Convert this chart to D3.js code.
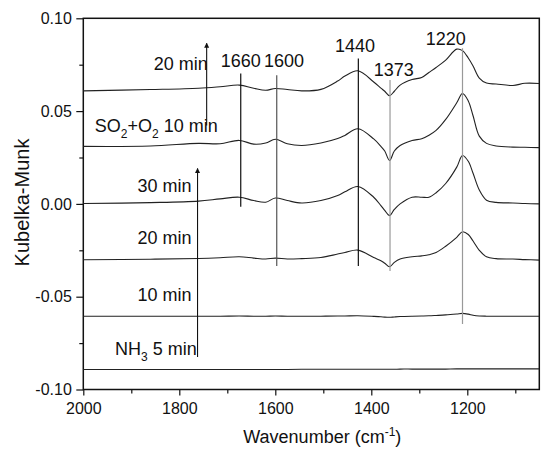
<!DOCTYPE html>
<html>
<head>
<meta charset="utf-8">
<script src="https://cdn.jsdelivr.net/npm/d3@7"></script>
<style>
body { margin: 0; background: #fff; }
text { font-family: "Liberation Sans", Arial, sans-serif; fill: #111; }
</style>
</head>
<body>
<div id="chart"></div>
<script>
var WD = 550, HT = 453
var margin = { left: 83.3, right: 10.7, top: 18.3, bottom: 63.5 }
var width = WD - margin.left - margin.right
var height = HT - margin.top - margin.bottom

// wavenumber grid (cm-1) shared by all spectra
var wavenumber = [2000, 1860, 1760, 1715, 1675, 1645, 1620, 1600, 1575, 1545, 1505, 1470, 1455, 1428,
  1395, 1380, 1372, 1362, 1352, 1340, 1315, 1295, 1280, 1265, 1245, 1222, 1210, 1198, 1188, 1175,
  1160, 1140, 1105, 1080, 1050]

// Kubelka-Munk values, one array per spectrum (bottom to top)
var nh3_5min = [-0.0892, -0.0892, -0.0892, -0.0892, -0.0892, -0.0892, -0.0892, -0.0892, -0.0892, -0.0891,
  -0.0891, -0.0891, -0.0891, -0.0891, -0.0891, -0.0891, -0.0891, -0.0891, -0.0891, -0.0890, -0.0890,
  -0.0890, -0.0890, -0.0890, -0.0890, -0.0889, -0.0889, -0.0889, -0.0889, -0.0889, -0.0889, -0.0889,
  -0.0889, -0.0889, -0.0889]
var nh3_10min = [-0.0605, -0.0605, -0.0605, -0.0605, -0.0604, -0.0605, -0.0605, -0.0604, -0.0605, -0.0605,
  -0.0605, -0.0604, -0.0604, -0.0603, -0.0606, -0.0608, -0.0610, -0.0611, -0.0609, -0.0607, -0.0605,
  -0.0604, -0.0603, -0.0601, -0.0598, -0.0593, -0.0590, -0.0594, -0.0600, -0.0604, -0.0605, -0.0605,
  -0.0605, -0.0605, -0.0605]
var nh3_20min = [-0.0301, -0.0298, -0.0294, -0.0290, -0.0285, -0.0292, -0.0297, -0.0292, -0.0297, -0.0295,
  -0.0289, -0.0270, -0.0262, -0.0249, -0.0289, -0.0306, -0.0320, -0.0339, -0.0315, -0.0297, -0.0285,
  -0.0280, -0.0274, -0.0262, -0.0228, -0.0180, -0.0150, -0.0165, -0.0200, -0.0250, -0.0285, -0.0295,
  -0.0297, -0.0300, -0.0303]
var nh3_30min = [0.0002, 0.0007, 0.0015, 0.0027, 0.0036, 0.0018, 0.0009, 0.0032, 0.0018, 0.0005,
  0.0018, 0.0045, 0.0065, 0.0094, 0.0036, -0.0009, -0.0035, -0.0063, -0.0030, 0.0000, 0.0036,
  0.0036, 0.0036, 0.0060, 0.0110, 0.0198, 0.0261, 0.0230, 0.0165, 0.0075, 0.0020, 0.0008,
  0.0005, 0.0002, 0.0000]
var so2_10min = [0.0310, 0.0312, 0.0326, 0.0324, 0.0342, 0.0322, 0.0328, 0.0348, 0.0324, 0.0315,
  0.0328, 0.0352, 0.0369, 0.0405, 0.0350, 0.0310, 0.0285, 0.0234, 0.0285, 0.0315, 0.0342,
  0.0351, 0.0370, 0.0396, 0.0455, 0.0545, 0.0595, 0.0555, 0.0475, 0.0365, 0.0326, 0.0312,
  0.0306, 0.0305, 0.0303]
var so2_20min = [0.0609, 0.0616, 0.0623, 0.0631, 0.0640, 0.0623, 0.0612, 0.0622, 0.0616, 0.0609,
  0.0617, 0.0662, 0.0689, 0.0717, 0.0657, 0.0624, 0.0607, 0.0583, 0.0607, 0.0640, 0.0670,
  0.0681, 0.0708, 0.0735, 0.0775, 0.0834, 0.0826, 0.0786, 0.0743, 0.0678, 0.0651, 0.0646,
  0.0638, 0.0650, 0.0649]
var series = [nh3_5min, nh3_10min, nh3_20min, nh3_30min, so2_10min, so2_20min]

// band markers
var bandLabel = ['1660', '1600', '1440', '1373', '1220']
var bandWn = [1672, 1597, 1427, 1361, 1210]
var bandTop = [0.0703, 0.0693, 0.0784, 0.0667, 0.0839]
var bandBottom = [-0.0015, -0.0334, -0.0334, -0.0361, -0.0647]
var bandColor = ['#111', '#555', '#111', '#999', '#999']
var bandLabelWn = [1672, 1582, 1434, 1353, 1245]
var bandLabelVal = [0.0739, 0.0739, 0.0820, 0.0689, 0.0856]

// spectrum labels (text start, baseline)
var traceLabelWn = [1934, 1887, 1887, 1887, 1976, 1853]
var traceLabelVal = [-0.0814, -0.0522, -0.0216, 0.0066, 0.0389, 0.0721]

// arrows
var arrowWn = [1762, 1743]
var arrowFrom = [-0.0825, 0.0423]
var arrowTo = [0.0191, 0.0866]

var xTicks = [2000, 1800, 1600, 1400, 1200]
var xMinor = [1900, 1700, 1500, 1300, 1100]
var yTicks = [-0.10, -0.05, 0.00, 0.05, 0.10]
var yMinor = [-0.075, -0.025, 0.025, 0.075]

var x = d3.scaleLinear().domain([2000, 1050]).range([0, width])
var y = d3.scaleLinear().domain([-0.10, 0.10]).range([height, 0])

var svg = d3.select("#chart")
            .append("svg")
                .attr("width", WD)
                .attr("height", HT)
            .append("g")
                .attr("transform", "translate(" + margin.left + "," + margin.top + ")")

// axes
var xAxis = svg.append("g").attr("transform", "translate(0," + height + ")")
    .call(d3.axisBottom(x).tickValues(xTicks).tickSize(6).tickPadding(7).tickSizeOuter(0).tickFormat(d3.format("d")))
var xAxisMinor = svg.append("g").attr("transform", "translate(0," + height + ")")
    .call(d3.axisBottom(x).tickValues(xMinor).tickSize(4).tickSizeOuter(0).tickFormat(""))
var yAxis = svg.append("g")
    .call(d3.axisLeft(y).tickValues(yTicks).tickSize(7).tickPadding(4.5).tickSizeOuter(0).tickFormat(d3.format(".2f")))
var yAxisMinor = svg.append("g")
    .call(d3.axisLeft(y).tickValues(yMinor).tickSize(4).tickSizeOuter(0).tickFormat(""))

svg.selectAll(".domain").remove()
svg.selectAll(".tick line").attr("stroke", "#111").attr("stroke-width", 1.2)
svg.selectAll(".tick text").style("font-size", "16px").attr("fill", "#111")
    .style("font-family", "'Liberation Sans', Arial, sans-serif")
yAxis.selectAll(".tick text").text(function(d){ return d3.format(".2f")(d).replace("−", "-") })

svg.append("rect")
    .attr("width", width).attr("height", height)
    .attr("fill", "none").attr("stroke", "#111").attr("stroke-width", 1.5)

// spectra
var line = d3.line()
    .x(function(d, i){ return x(wavenumber[i]) })
    .y(function(d){ return y(d) })
    .curve(d3.curveCatmullRom.alpha(0.5))

svg.selectAll("path.spec")
    .data(series)
    .enter()
    .append("path")
        .attr("class", "spec")
        .attr("d", line)
        .attr("fill", "none")
        .attr("stroke", "#222")
        .attr("stroke-width", 1.1)

// band marker lines + labels
svg.selectAll("line.band")
    .data(bandWn)
    .enter()
    .append("line")
        .attr("class", "band")
        .attr("x1", function(d){ return x(d) })
        .attr("x2", function(d){ return x(d) })
        .attr("y1", function(d, i){ return y(bandTop[i]) })
        .attr("y2", function(d, i){ return y(bandBottom[i]) })
        .attr("stroke", function(d, i){ return bandColor[i] })
        .attr("stroke-width", 1.2)

svg.selectAll("text.band")
    .data(bandLabel)
    .enter()
    .append("text")
        .attr("class", "band")
        .attr("x", function(d, i){ return x(bandLabelWn[i]) })
        .attr("y", function(d, i){ return y(bandLabelVal[i]) })
        .attr("text-anchor", "middle")
        .style("font-size", "18px")
        .text(function(d){ return d })

// arrows
var defs = svg.append("defs")
defs.append("marker")
    .attr("id", "head")
    .attr("viewBox", "0 0 10 10")
    .attr("refX", 9).attr("refY", 5)
    .attr("markerWidth", 5).attr("markerHeight", 9)
    .attr("markerUnits", "userSpaceOnUse")
    .attr("orient", "auto")
  .append("path")
    .attr("d", "M0,0 L10,5 L0,10 Z")
    .attr("fill", "#111")

svg.selectAll("line.arrow")
    .data(arrowWn)
    .enter()
    .append("line")
        .attr("class", "arrow")
        .attr("x1", function(d){ return x(d) })
        .attr("x2", function(d){ return x(d) })
        .attr("y1", function(d, i){ return y(arrowFrom[i]) })
        .attr("y2", function(d, i){ return y(arrowTo[i]) })
        .attr("stroke", "#111")
        .attr("stroke-width", 1.1)
        .attr("marker-end", "url(#head)")

// spectrum labels
function addLabel(i, parts) {
  var t = svg.append("text")
      .attr("x", x(traceLabelWn[i]))
      .attr("y", y(traceLabelVal[i]))
      .style("font-size", "18px")
  parts.forEach(function(p){
    var s = t.append("tspan").text(p[0])
    if (p[1] == "sub") s.style("font-size", "12px").attr("dy", 6)
    if (p[1] == "back") s.attr("dy", -6)
  })
}
addLabel(0, [["NH"], ["3", "sub"], [" 5 min", "back"]])
addLabel(1, [["10 min"]])
addLabel(2, [["20 min"]])
addLabel(3, [["30 min"]])
addLabel(4, [["SO"], ["2", "sub"], ["+O", "back"], ["2", "sub"], [" 10 min", "back"]])
addLabel(5, [["20 min"]])

// axis titles
svg.append("text")
    .attr("transform", "translate(" + (22 - margin.left) + "," + (202.5 - margin.top) + ") rotate(-90)")
    .attr("text-anchor", "middle")
    .attr("dy", "0.35em")
    .style("font-size", "20px")
    .text("Kubelka-Munk")

var xt = svg.append("text")
    .attr("x", width / 2 + 11)
    .attr("y", height + 54)
    .attr("text-anchor", "middle")
    .style("font-size", "18px")
xt.append("tspan").text("Wavenumber (cm")
xt.append("tspan").text("-1").style("font-size", "12px").attr("dy", -7)
xt.append("tspan").text(")").attr("dy", 7)
</script>
</body>
</html>
